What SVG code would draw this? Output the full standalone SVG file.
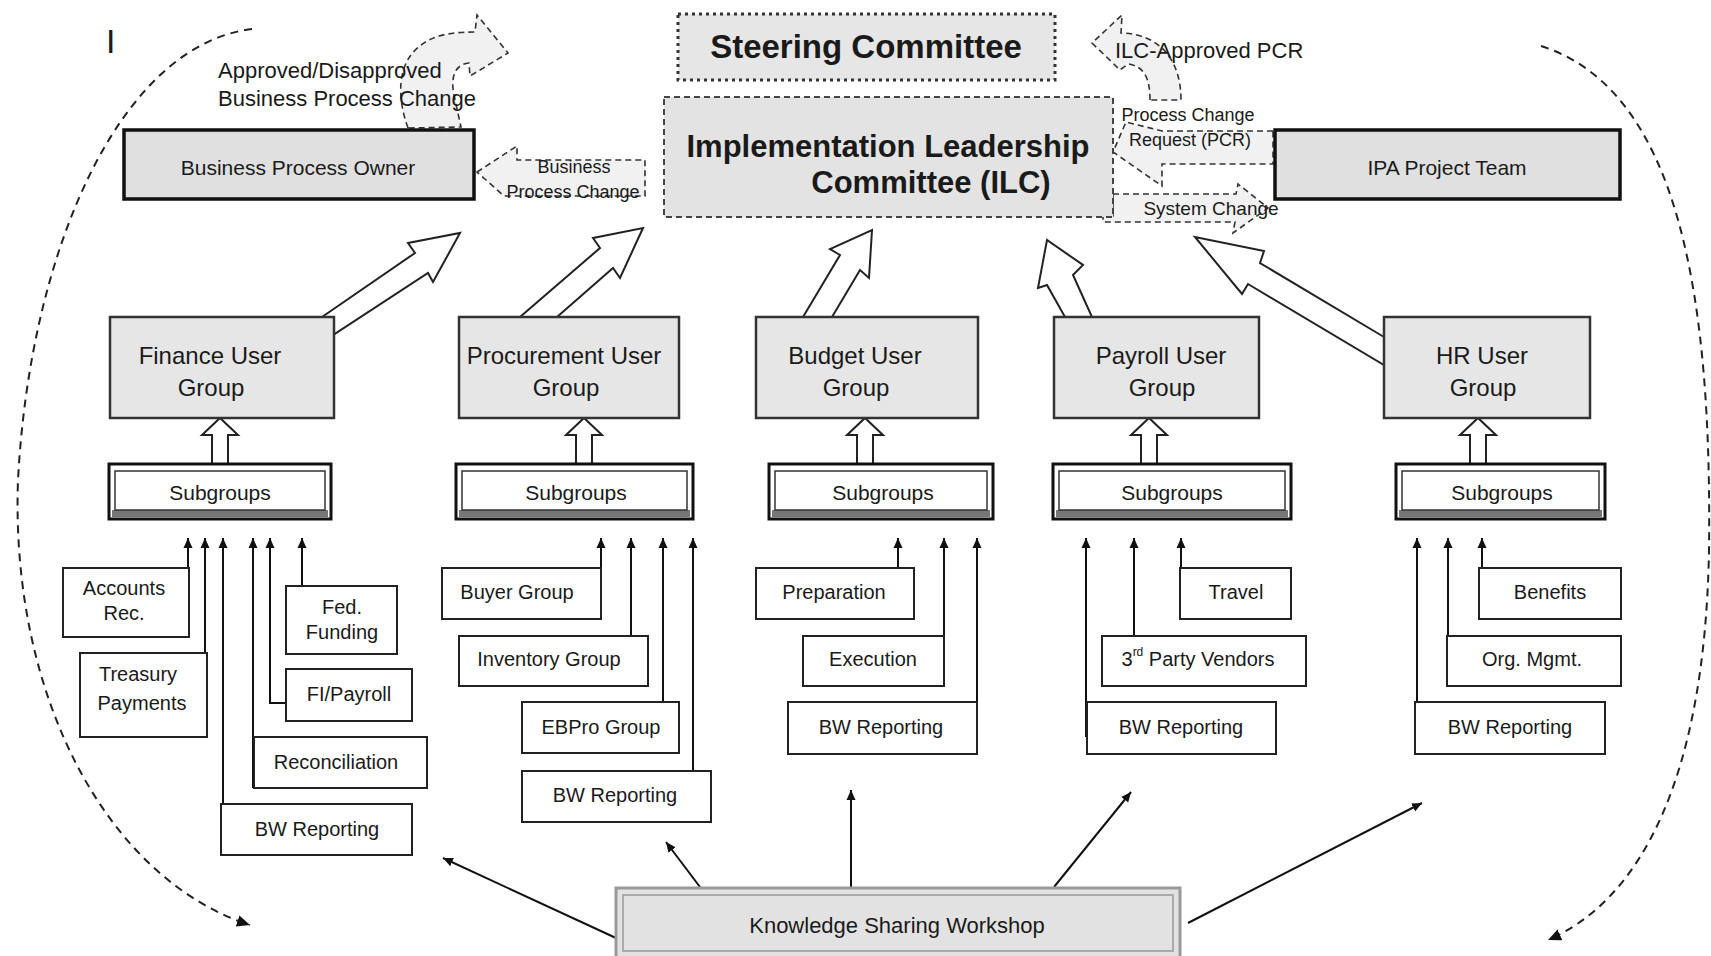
<svg xmlns="http://www.w3.org/2000/svg" width="1711" height="956" viewBox="0 0 1711 956">
<defs>
<marker id="ah" viewBox="0 0 10 10" refX="10" refY="5" markerWidth="10" markerHeight="10" markerUnits="userSpaceOnUse" orient="auto"><path d="M0,0.5 L10,5 L0,9.5 z" fill="#111"/></marker>
<marker id="ahd" viewBox="0 0 10 10" refX="10" refY="5" markerWidth="13" markerHeight="13" markerUnits="userSpaceOnUse" orient="auto"><path d="M0,0.5 L10,5 L0,9.5 z" fill="#111"/></marker>
<style>
text{font-family:"Liberation Sans",Arial,sans-serif;fill:#1a1a1a}
.c{text-anchor:middle;dominant-baseline:central}
.b{font-weight:bold}
.leaf rect{fill:#fff;stroke:#222;stroke-width:2}
.leaf text{font-size:20px}
.ug rect{fill:#e6e6e6;stroke:#333;stroke-width:2.5}
.ug text{font-size:24px}
.sg .o{fill:#fff;stroke:#111;stroke-width:3}
.sg .band{fill:#777}
.sg .i{fill:#fff;stroke:#333;stroke-width:1.5}
.sg text{font-size:21px}
.thick{fill:#e0e0e0;stroke:#111;stroke-width:3.5}
.blk{fill:#fff;stroke:#222;stroke-width:2;stroke-linejoin:miter}
.dblk{fill:#f1f1f1;stroke:#333;stroke-width:1.6;stroke-dasharray:6,4}
.ln{fill:none;stroke:#111;stroke-width:2;marker-end:url(#ah)}
.dash{fill:none;stroke:#222;stroke-width:2;stroke-dasharray:8,6;marker-end:url(#ahd)}
.sm{font-size:18px}
</style>
</defs>
<rect width="1711" height="956" fill="#fff"/>

<text x="106" y="53" style="font-size:34px">I</text>

<!-- connectors -->
<g id="connectors">
  <!-- dashed outer arcs -->
  <path class="dash" d="M252,29 C120,45 30,250 18,480 C10,700 110,880 250,925"/>
  <path class="dash" d="M1541,46 C1680,90 1712,300 1709,550 C1705,780 1640,900 1548,940"/>

  <!-- approved/disapproved curved block arrow -->
  <path class="dblk" d="M408,128 C396,95 398,62 420,46 C432,36 448,32 475,32 L477,15 L508,53 L470,76 L469,63 C456,64 450,76 454,95 L461,127 Z"/>
  <!-- business process change arrow (to BPO) -->
  <path class="dblk" d="M477,172 L517,146 L517,160 L645,160 L645,196 L504,196 Z"/>
  <!-- ILC-approved PCR curved arrow -->
  <path class="dblk" d="M1150,100 C1150,80 1145,66 1128,64 L1120,70 L1092,43 L1122,15 L1121,33 C1160,34 1181,60 1181,100 Z"/>
  <!-- PCR arrow (IPA to ILC) -->
  <path class="dblk" d="M1273,131 L1162,131 L1126,122 L1113,152 L1162,186 L1162,164 L1273,164 Z"/>
  <!-- system change arrow (ILC to IPA) -->
  <path class="dblk" d="M1113,194 L1236,194 L1238,184 L1268,208 L1233,233 L1235,222 L1103,222 L1103,216 L1113,216 Z"/>

  <!-- user group to top block arrows -->
  <polygon class="blk" points="322,317 415,253 408,243 460,233 433,282 428,273 333,335"/>
  <polygon class="blk" points="520,317 600,248 593,238 643,228 620,278 613,268 557,317"/>
  <polygon class="blk" points="803,317 840,255 830,249 872,230 869,278 860,270 832,317"/>
  <polygon class="blk" points="1065,317 1047,285 1038,288 1047,240 1083,265 1073,275 1092,317"/>
  <polygon class="blk" points="1384,337 1260,263 1264,251 1195,237 1242,294 1248,284 1384,365"/>

  <!-- subgroup to user group hollow arrows -->
  <polygon class="blk" points="212,464 212,435 202,435 220,418 238,435 228,435 228,464"/>
  <polygon class="blk" points="576,464 576,435 566,435 584,418 602,435 592,435 592,464"/>
  <polygon class="blk" points="857,464 857,435 847,435 865,418 883,435 873,435 873,464"/>
  <polygon class="blk" points="1141,464 1141,435 1131,435 1149,418 1167,435 1157,435 1157,464"/>
  <polygon class="blk" points="1470,464 1470,435 1460,435 1478,418 1496,435 1486,435 1486,464"/>

  <!-- finance leaves -->
  <path class="ln" d="M188,568 V538"/>
  <path class="ln" d="M205,668 V538"/>
  <path class="ln" d="M223,804 V538"/>
  <path class="ln" d="M253,788 V538"/>
  <path class="ln" d="M286,703 H270 V538"/>
  <path class="ln" d="M302,586 V538"/>
  <!-- procurement leaves -->
  <path class="ln" d="M601,568 V538"/>
  <path class="ln" d="M631,636 V538"/>
  <path class="ln" d="M663,702 V538"/>
  <path class="ln" d="M693,771 V538"/>
  <!-- budget leaves -->
  <path class="ln" d="M898,568 V538"/>
  <path class="ln" d="M944,636 V538"/>
  <path class="ln" d="M977,702 V538"/>
  <!-- payroll leaves -->
  <path class="ln" d="M1086,737 V538"/>
  <path class="ln" d="M1134,636 V538"/>
  <path class="ln" d="M1181,568 V538"/>
  <!-- HR leaves -->
  <path class="ln" d="M1417,702 V538"/>
  <path class="ln" d="M1448,636 V538"/>
  <path class="ln" d="M1482,568 V538"/>

  <!-- workshop arrows -->
  <path class="ln" d="M616,938 L443,858"/>
  <path class="ln" d="M700,887 L666,842"/>
  <path class="ln" d="M851,887 L851,790"/>
  <path class="ln" d="M1054,887 L1131,792"/>
  <path class="ln" d="M1188,923 L1422,803"/>
</g>

<!-- connector labels -->
<g id="labels">
  <text x="218" y="70" style="font-size:22px;dominant-baseline:central">Approved/Disapproved</text>
  <text x="218" y="98" style="font-size:22px;dominant-baseline:central">Business Process Change</text>
  <text class="c sm" x="574" y="167">Business</text>
  <text class="c sm" x="573" y="192">Process Change</text>
  <text x="1115" y="50" style="font-size:22px;dominant-baseline:central">ILC-Approved PCR</text>
  <text class="c sm" x="1188" y="115">Process Change</text>
  <text class="c sm" x="1190" y="140">Request (PCR)</text>
  <text class="c" x="1211" y="208" style="font-size:19px">System Change</text>
</g>

<g id="steering">
  <rect x="678" y="14" width="377" height="66" fill="#e6e6e6" stroke="#333" stroke-width="3" stroke-dasharray="3,4"/>
  <text class="c b" x="866" y="46" style="font-size:33px">Steering Committee</text>
</g>

<g id="ilc">
  <rect x="664" y="97" width="449" height="120" fill="#e3e3e3" stroke="#444" stroke-width="2" stroke-dasharray="6,4"/>
  <text class="c b" x="888" y="146" style="font-size:31px">Implementation Leadership</text>
  <text class="c b" x="931" y="182" style="font-size:31px">Committee (ILC)</text>
</g>

<g id="bpo">
  <rect class="thick" x="124" y="130" width="350" height="69"/>
  <text class="c" x="298" y="167" style="font-size:21px">Business Process Owner</text>
</g>

<g id="ipa">
  <rect class="thick" x="1275" y="130" width="345" height="69"/>
  <text class="c" x="1447" y="167" style="font-size:21px">IPA Project Team</text>
</g>

<g id="ug-finance" class="ug"><rect x="110" y="317" width="224" height="101"/><text class="c" x="210" y="355">Finance User</text><text class="c" x="211" y="387">Group</text></g>
<g id="ug-procurement" class="ug"><rect x="459" y="317" width="220" height="101"/><text class="c" x="564" y="355">Procurement User</text><text class="c" x="566" y="387">Group</text></g>
<g id="ug-budget" class="ug"><rect x="756" y="317" width="222" height="101"/><text class="c" x="855" y="355">Budget User</text><text class="c" x="856" y="387">Group</text></g>
<g id="ug-payroll" class="ug"><rect x="1054" y="317" width="205" height="101"/><text class="c" x="1161" y="355">Payroll User</text><text class="c" x="1162" y="387">Group</text></g>
<g id="ug-hr" class="ug"><rect x="1384" y="317" width="206" height="101"/><text class="c" x="1482" y="355">HR User</text><text class="c" x="1483" y="387">Group</text></g>

<g id="sg-finance" class="sg"><rect class="o" x="109" y="464" width="222" height="55"/><rect class="band" x="112" y="510" width="216" height="7"/><rect class="i" x="115" y="471" width="210" height="39"/><text class="c" x="220" y="492">Subgroups</text></g>
<g id="sg-procurement" class="sg"><rect class="o" x="456" y="464" width="237" height="55"/><rect class="band" x="459" y="510" width="231" height="7"/><rect class="i" x="462" y="471" width="225" height="39"/><text class="c" x="576" y="492">Subgroups</text></g>
<g id="sg-budget" class="sg"><rect class="o" x="769" y="464" width="224" height="55"/><rect class="band" x="772" y="510" width="218" height="7"/><rect class="i" x="775" y="471" width="212" height="39"/><text class="c" x="883" y="492">Subgroups</text></g>
<g id="sg-payroll" class="sg"><rect class="o" x="1053" y="464" width="238" height="55"/><rect class="band" x="1056" y="510" width="232" height="7"/><rect class="i" x="1059" y="471" width="226" height="39"/><text class="c" x="1172" y="492">Subgroups</text></g>
<g id="sg-hr" class="sg"><rect class="o" x="1396" y="464" width="209" height="55"/><rect class="band" x="1399" y="510" width="203" height="7"/><rect class="i" x="1402" y="471" width="197" height="39"/><text class="c" x="1502" y="492">Subgroups</text></g>

<!-- finance leaves -->
<g id="l-accounts" class="leaf"><rect x="63" y="568" width="126" height="69"/><text class="c" x="124" y="588">Accounts</text><text class="c" x="124" y="613">Rec.</text></g>
<g id="l-treasury" class="leaf"><rect x="80" y="653" width="127" height="84"/><text class="c" x="138" y="674">Treasury</text><text class="c" x="142" y="703">Payments</text></g>
<g id="l-fed" class="leaf"><rect x="286" y="586" width="111" height="68"/><text class="c" x="342" y="607">Fed.</text><text class="c" x="342" y="632">Funding</text></g>
<g id="l-fipayroll" class="leaf"><rect x="286" y="669" width="126" height="52"/><text class="c" x="349" y="694">FI/Payroll</text></g>
<g id="l-recon" class="leaf"><rect x="254" y="737" width="173" height="51"/><text class="c" x="336" y="762">Reconciliation</text></g>
<g id="l-bw-fin" class="leaf"><rect x="221" y="804" width="191" height="51"/><text class="c" x="317" y="829">BW Reporting</text></g>
<!-- procurement leaves -->
<g id="l-buyer" class="leaf"><rect x="442" y="568" width="159" height="51"/><text class="c" x="517" y="592">Buyer Group</text></g>
<g id="l-inventory" class="leaf"><rect x="459" y="636" width="189" height="50"/><text class="c" x="549" y="659">Inventory Group</text></g>
<g id="l-ebpro" class="leaf"><rect x="522" y="702" width="157" height="51"/><text class="c" x="601" y="727">EBPro Group</text></g>
<g id="l-bw-proc" class="leaf"><rect x="522" y="771" width="189" height="51"/><text class="c" x="615" y="795">BW Reporting</text></g>
<!-- budget leaves -->
<g id="l-prep" class="leaf"><rect x="756" y="568" width="158" height="51"/><text class="c" x="834" y="592">Preparation</text></g>
<g id="l-exec" class="leaf"><rect x="803" y="636" width="141" height="50"/><text class="c" x="873" y="659">Execution</text></g>
<g id="l-bw-bud" class="leaf"><rect x="788" y="702" width="189" height="52"/><text class="c" x="881" y="727">BW Reporting</text></g>
<!-- payroll leaves -->
<g id="l-travel" class="leaf"><rect x="1180" y="568" width="111" height="51"/><text class="c" x="1236" y="592">Travel</text></g>
<g id="l-3rd" class="leaf"><rect x="1102" y="636" width="204" height="50"/><text class="c" x="1198" y="659">3<tspan style="font-size:12px" baseline-shift="super">rd</tspan> Party Vendors</text></g>
<g id="l-bw-pay" class="leaf"><rect x="1087" y="702" width="189" height="52"/><text class="c" x="1181" y="727">BW Reporting</text></g>
<!-- HR leaves -->
<g id="l-benefits" class="leaf"><rect x="1479" y="568" width="142" height="51"/><text class="c" x="1550" y="592">Benefits</text></g>
<g id="l-org" class="leaf"><rect x="1447" y="636" width="174" height="50"/><text class="c" x="1532" y="659">Org. Mgmt.</text></g>
<g id="l-bw-hr" class="leaf"><rect x="1415" y="702" width="190" height="52"/><text class="c" x="1510" y="727">BW Reporting</text></g>

<g id="workshop">
  <rect x="616" y="888" width="564" height="70" fill="#e2e2e2" stroke="#999" stroke-width="3"/>
  <rect x="623" y="895" width="550" height="56" fill="none" stroke="#aaa" stroke-width="2"/>
  <text class="c" x="897" y="925" style="font-size:22px">Knowledge Sharing Workshop</text>
</g>
</svg>
